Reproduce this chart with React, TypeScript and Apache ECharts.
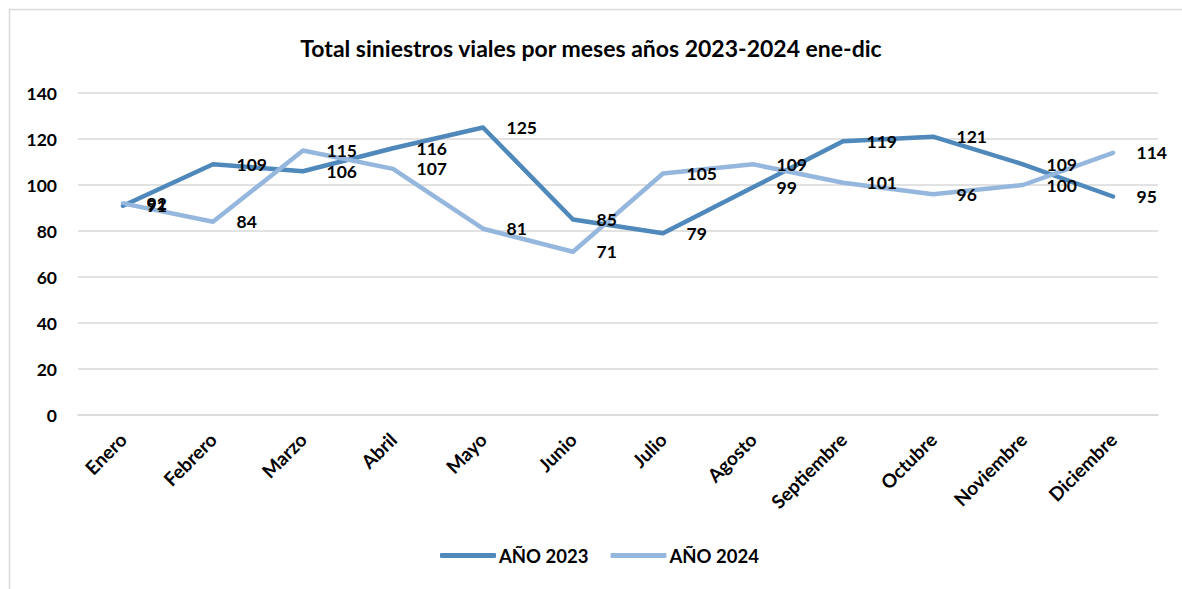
import React, { useEffect, useRef } from "react";
import * as echarts from "echarts";

const months = ["Enero", "Febrero", "Marzo", "Abril", "Mayo", "Junio", "Julio", "Agosto", "Septiembre", "Octubre", "Noviembre", "Diciembre"];
const values2023 = [91, 109, 106, 116, 125, 85, 79, 99, 119, 121, 109, 95];
const values2024 = [92, 84, 115, 107, 81, 71, 105, 109, 101, 96, 100, 114];
const seriesNames = ["AÑO 2023", "AÑO 2024"];
const titleText = "Total siniestros viales por meses años 2023-2024 ene-dic";

const FONT = "Lato, 'Open Sans', sans-serif";

export default function App() {
  const ref = useRef<HTMLDivElement>(null);
  useEffect(() => {
    if (!ref.current) return;
    const chart = echarts.init(ref.current, null, { renderer: "svg" });
    const mkSeries = (name: string, data: number[], color: string) => ({
      name,
      type: "line",
      data,
      symbol: "circle",
      symbolSize: 3,
      showSymbol: true,
      itemStyle: { color },
      lineStyle: { color, width: 4.5, cap: "round", join: "round" },
      label: {
        show: true,
        position: "right",
        distance: 22,
        color: "#000",
        fontFamily: FONT,
        fontWeight: "bold",
        fontSize: 17.5,
      },
      emphasis: { disabled: true },
    });
    chart.setOption({
      animation: false,
      backgroundColor: "#fff",
      title: {
        text: titleText,
        left: "center",
        top: 31,
        textStyle: { fontFamily: FONT, fontWeight: "bold", fontSize: 23, color: "#000" },
      },
      legend: {
        bottom: 19,
        left: 435,
        itemWidth: 56,
        itemHeight: 5,
        itemGap: 22,
        icon: "roundRect",
        textStyle: { fontFamily: FONT, fontWeight: "bold", fontSize: 18.5, color: "#000", padding: [0, 0, 0, -2] },
        data: seriesNames,
      },
      grid: { left: 78, right: 24, top: 93, bottom: 174, containLabel: false },
      xAxis: {
        type: "category",
        data: months,
        boundaryGap: true,
        axisLine: { show: true, lineStyle: { color: "#d9d9d9", width: 1.5 } },
        axisTick: { show: false },
        axisLabel: {
          rotate: 45,
          margin: 21,
          color: "#000",
          fontFamily: FONT,
          fontWeight: "bold",
          fontSize: 19,
          interval: 0,
        },
      },
      yAxis: {
        type: "value",
        min: 0,
        max: 140,
        interval: 20,
        axisLine: { show: false },
        axisTick: { show: false },
        splitLine: { lineStyle: { color: "#d9d9d9", width: 1.5 } },
        axisLabel: { margin: 21, color: "#000", fontFamily: FONT, fontWeight: "bold", fontSize: 17.5 },
      },
      graphic: [
        {
          type: "rect",
          shape: { x: 9.5, y: 9.5, width: 1300, height: 700 },
          style: { fill: "none", stroke: "#d9d9d9", lineWidth: 1.5 },
          silent: true,
          z: -1,
        },
      ],
      series: [
        mkSeries(seriesNames[0], values2023, "#4f88bb"),
        mkSeries(seriesNames[1], values2024, "#95b7de"),
      ],
    });
    return () => chart.dispose();
  }, []);
  return <div ref={ref} style={{ position: "absolute", left: 0, top: 0, width: 1182, height: 589 }} />;
}
